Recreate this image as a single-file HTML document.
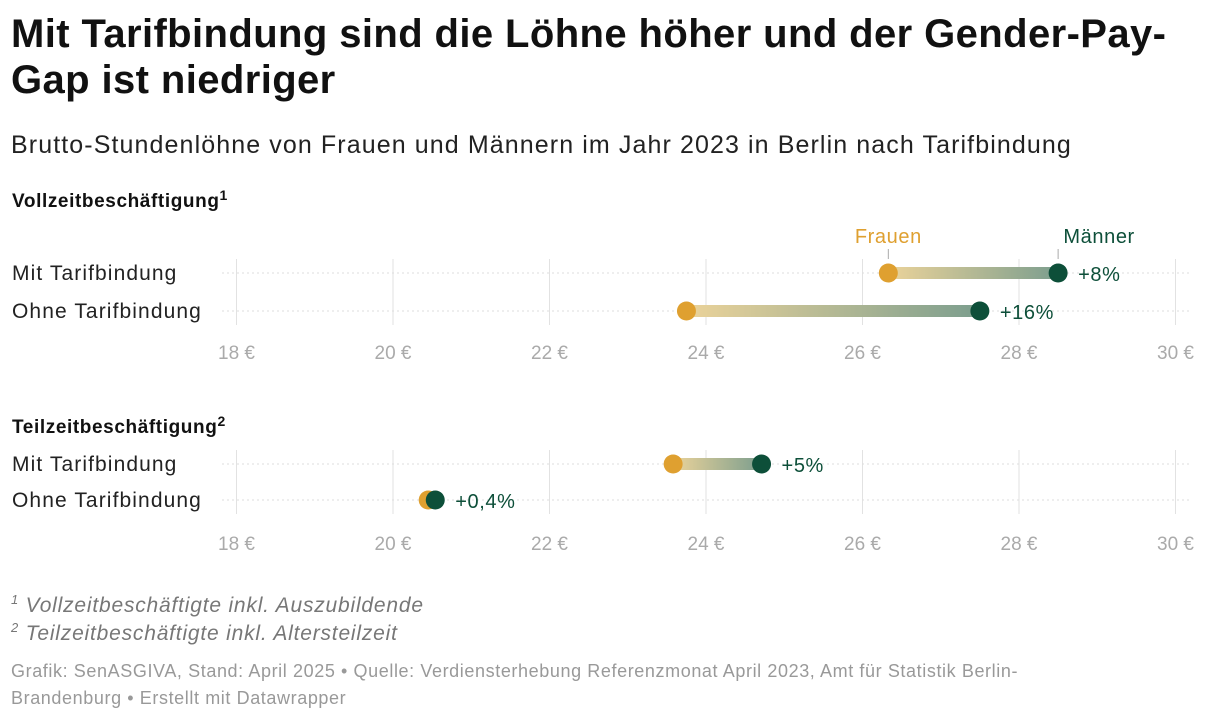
<!DOCTYPE html>
<html><head><meta charset="utf-8"><style>
body{margin:0;width:1220px;height:720px;background:#fff;font-family:"Liberation Sans",Roboto,sans-serif;overflow:hidden;position:relative}
.t{position:absolute;margin:0}
</style></head><body>
<h1 class="t" style="left:11px;top:11px;font-size:40px;line-height:46px;font-weight:bold;color:#111;letter-spacing:0.4px;width:1210px;white-space:nowrap">Mit Tarifbindung sind die Löhne höher und der Gender-Pay-<br>Gap ist niedriger</h1>
<div class="t" style="left:11px;top:131px;font-size:25px;letter-spacing:1.1px;color:#222;white-space:nowrap">Brutto-Stundenlöhne von Frauen und Männern im Jahr 2023 in Berlin nach Tarifbindung</div>
<svg id="c" width="1220" height="720" style="position:absolute;left:0;top:0" font-family="Liberation Sans, sans-serif">
<defs><linearGradient id="g" x1="0" x2="1" y1="0" y2="0"><stop offset="0" stop-color="#ebd39a"/><stop offset="1" stop-color="#7c9e8e"/></linearGradient></defs>
</svg>
<div class="t" style="left:11px;top:592px;font-size:21px;letter-spacing:0.8px;color:#777;font-style:italic"><sup style="font-size:13px">1</sup> Vollzeitbeschäftigte inkl. Auszubildende</div>
<div class="t" style="left:11px;top:620px;font-size:21px;letter-spacing:0.8px;color:#777;font-style:italic"><sup style="font-size:13px">2</sup> Teilzeitbeschäftigte inkl. Altersteilzeit</div>
<div class="t" style="left:11px;top:658px;font-size:18px;line-height:27px;letter-spacing:0.6px;color:#999;width:1200px;white-space:nowrap">Grafik: SenASGIVA, Stand: April 2025 • Quelle: Verdiensterhebung Referenzmonat April 2023, Amt für Statistik Berlin-<br>Brandenburg • Erstellt mit Datawrapper</div>
<script>
const panels=["Vollzeitbeschäftigung","Teilzeitbeschäftigung"];
const panelSup=["1","2"];
const categories=["Mit Tarifbindung","Ohne Tarifbindung"];
const frauen=[[26.33,23.75],[23.58,20.45]];
const maenner=[[28.5,27.5],[24.71,20.54]];
const diffLabels=[["+8%","+16%"],["+5%","+0,4%"]];
const ticks=[18,20,22,24,26,28,30];
const svg=document.getElementById('c');const NS="http://www.w3.org/2000/svg";
const x=v=>236.5+(v-18)*78.25;
function el(t,a,p){const e=document.createElementNS(NS,t);for(const k in a)e.setAttribute(k,a[k]);(p||svg).appendChild(e);return e;}
const layout=[{head:207,rows:[273,311],tick:359},{head:433,rows:[464,500],tick:550}];
panels.forEach((p,pi)=>{
  const L=layout[pi];
  const h=el('text',{x:12,y:L.head,'font-size':19,'font-weight':'bold',fill:'#111','letter-spacing':0.6});
  h.textContent=p;
  
  
  const s=el('tspan',{dy:-7,'font-size':14},h);s.textContent=panelSup[pi];
  ticks.forEach(tk=>{
    const l=el('line',{x1:x(tk),x2:x(tk),y1:L.rows[0]-14,y2:L.rows[1]+14,stroke:'#e2e2e2','stroke-width':1});
    
    
    const tt=el('text',{x:x(tk),y:L.tick,'text-anchor':'middle','font-size':19,fill:'#aaa'});
    tt.textContent=tk+' €';
    
    
  });
  categories.forEach((c,ci)=>{
    const y=L.rows[ci];
    const gl=el('line',{x1:222,x2:1190,y1:y,y2:y,stroke:'#ddd','stroke-width':1,'stroke-dasharray':'2,3'});
    
    
    const lb=el('text',{x:12,y:y+7,'font-size':21,fill:'#222','letter-spacing':1.1});lb.textContent=c;
    
    
    const f=frauen[pi][ci],m=maenner[pi][ci];
    const b=el('rect',{x:x(f),y:y-6,width:Math.max(0.1,x(m)-x(f)),height:12,fill:'url(#g)'});
    
    
    const d1=el('circle',{cx:x(f),cy:y,r:9.5,fill:'#dfa030'});
    
    
    const d2=el('circle',{cx:x(m),cy:y,r:9.5,fill:'#0d4f39'});
    
    
    const dl=el('text',{x:x(m)+20,y:y+8,'font-size':20,fill:'#0d4f39','letter-spacing':0.6});dl.textContent=diffLabels[pi][ci];
    
    
    if(pi===0&&ci===0){
      const fl=el('text',{x:x(f),y:y-30,'text-anchor':'middle','font-size':20,fill:'#dfa030','letter-spacing':0.6});fl.textContent='Frauen';
      
      
      const ml=el('text',{x:x(m)+41,y:y-30,'text-anchor':'middle','font-size':20,fill:'#0d4f39','letter-spacing':0.6});ml.textContent='Männer';
      
      
      [x(f),x(m)].forEach(xx=>{const k=el('line',{x1:xx,x2:xx,y1:y-24,y2:y-14,stroke:'#aaa'});
        
        });
    }
  });
});
</script>
</body></html>
